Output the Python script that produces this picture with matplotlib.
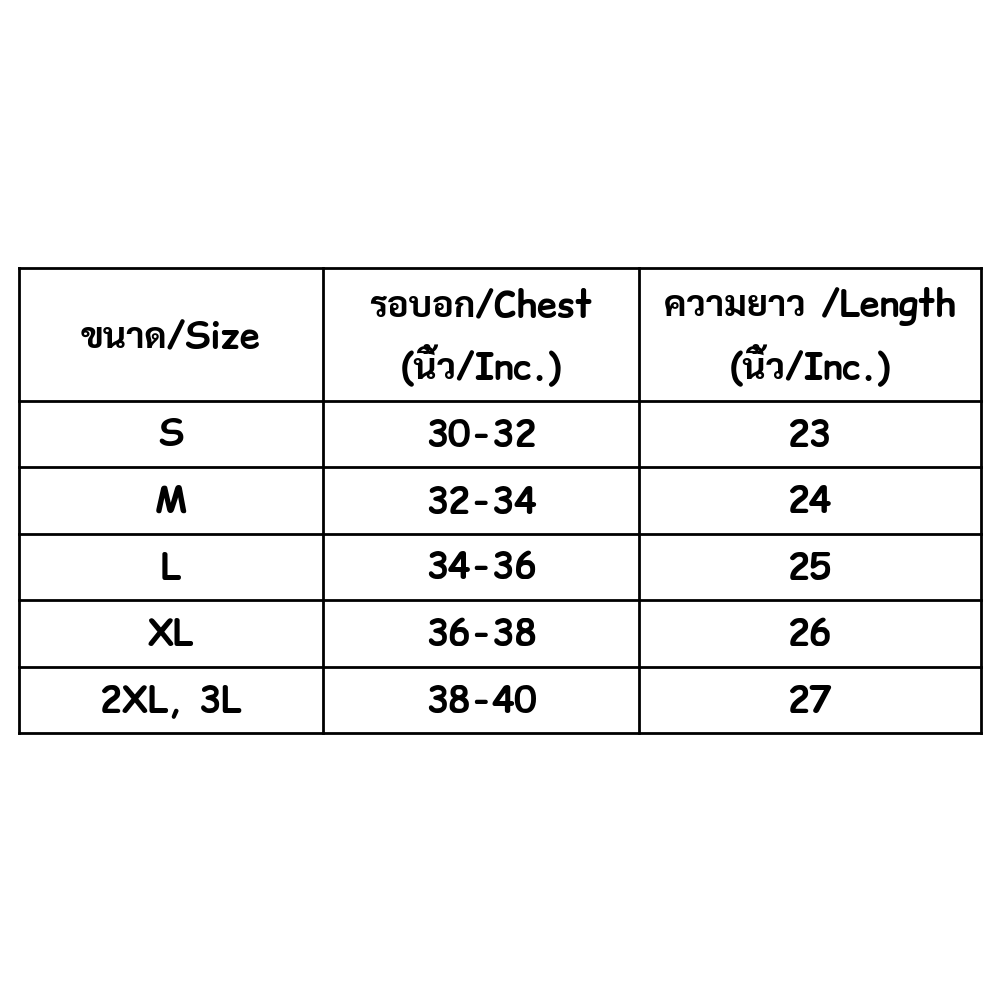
import matplotlib
matplotlib.use("Agg")
import matplotlib.pyplot as plt
from matplotlib import font_manager
import glob

header = ["ขนาด/Size", "รอบอก/Chest\n(นิ้ว/Inc.)", "ความยาว /Length\n(นิ้ว/Inc.)"]
sizes = ["S", "M", "L", "XL", "2XL, 3L"]
chest = ["30-32", "32-34", "34-36", "36-38", "38-40"]
length = ["23", "24", "25", "26", "27"]

for f in sorted(glob.glob("/usr/share/fonts/**/ComicRelief*", recursive=True)):
    try:
        font_manager.fontManager.addfont(f)
    except Exception:
        pass

fig = plt.figure(figsize=(10, 10), dpi=100)
ax = fig.add_axes([0, 0, 1, 1])
ax.set_xlim(0, 1000)
ax.set_ylim(1000, 0)
ax.axis("off")

col_x = [19, 323, 639, 981]
row_y = [268, 401, 467, 534, 600, 667, 733]

lw = 2
for x in col_x:
    ax.plot([x, x], [row_y[0], row_y[-1]], color="black", lw=lw)
for y in row_y:
    ax.plot([col_x[0], col_x[-1]], [y, y], color="black", lw=lw)

fam = ["Comic Relief", "Comic Neue", "Sarabun", "DejaVu Sans"]
for j, h in enumerate(header):
    cx = (col_x[j] + col_x[j + 1]) / 2
    cy = (row_y[0] + row_y[1]) / 2 + 3
    ax.text(cx, cy, h, ha="center", va="center", fontsize=26, fontweight="bold",
            family=fam, linespacing=1.6)

for i in range(len(sizes)):
    cy = (row_y[i + 1] + row_y[i + 2]) / 2 + 2
    for j, v in enumerate([sizes[i], chest[i], length[i]]):
        cx = (col_x[j] + col_x[j + 1]) / 2
        ax.text(cx, cy, v, ha="center", va="center", fontsize=26, fontweight="bold",
                family=fam)

fig.savefig("out.png", dpi=100, facecolor="white")
